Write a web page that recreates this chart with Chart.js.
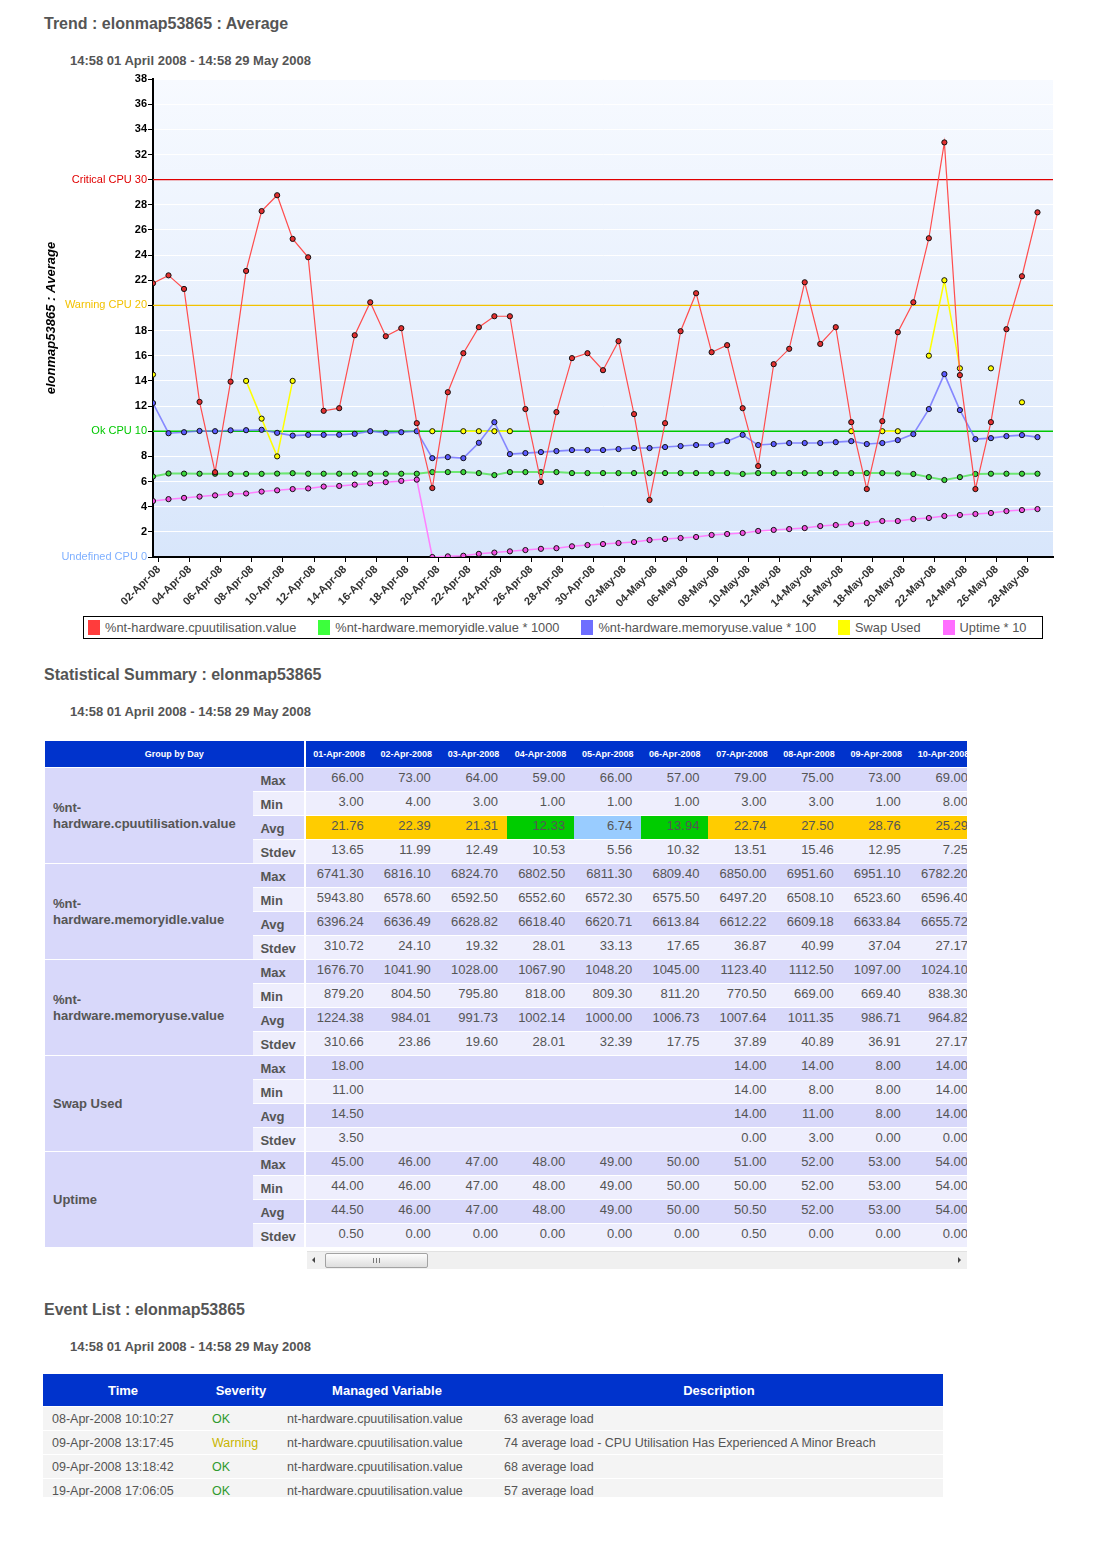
<!DOCTYPE html>
<html>
<head>
<meta charset="utf-8">
<title>Trend : elonmap53865 : Average</title>
<script src="https://cdn.jsdelivr.net/npm/chart.js@4.4.1/dist/chart.umd.min.js"></script>
<style>
    html, body { margin: 0; padding: 0; background: #fff; }
    body {
        width: 1100px; height: 1542px; position: relative; overflow: hidden;
        font-family: "Liberation Sans", Arial, sans-serif; color: #555;
    }
    .page { position: absolute; left: 0; top: 0; width: 1100px; height: 1497px; overflow: hidden; }
    h2 { position: absolute; margin: 0; font-size: 16px; line-height: 18px; font-weight: bold; color: #555; }
    .range { position: absolute; margin: 0; font-size: 13px; line-height: 16px; font-weight: bold; color: #555; }

    #trend-wrap { position: absolute; left: 0; top: 70px; width: 1100px; height: 540px; }
    #legend {
        position: absolute; left: 83px; top: 616px; width: 958px; height: 21px;
        border: 1px solid #000; display: flex; align-items: center;
        font-size: 12.8px; color: #555; white-space: nowrap;
    }
    #legend .item { display: flex; align-items: center; margin-right: 18px; }
    #legend .swatch { width: 12px; height: 15px; margin-left: 4px; margin-right: 5px; }

    #summary-wrap { position: absolute; left: 45px; top: 741px; width: 922px; height: 508px; overflow: hidden; }
    #summary { border-collapse: separate; border-spacing: 0; table-layout: fixed; width: 932px; font-size: 13px; }
    #summary th { background: #0033cc; color: #fff; font-size: 9px; font-weight: bold; height: 26px; padding: 0; border-bottom: 1px solid #fff; text-align: center; }
    #summary th.group-head { border-right: 2px solid #fff; }
    #summary td { height: 23px; padding: 0; border-bottom: 1px solid #fff; color: #555; }
    #summary td.group { background: #d8d8fa; font-weight: bold; padding-left: 8px; line-height: 16px; vertical-align: middle; }
    #summary td.stat { font-weight: bold; padding-left: 7px; border-right: 2px solid #fff; padding-top: 2px; height: 21px; }
    #summary td.val { text-align: right; padding-right: 9px; vertical-align: top; padding-top: 2px; height: 21px; }
    #summary tr.dark td.stat, #summary tr.dark td.val { background: #d8d8fa; }
    #summary tr.light td.stat, #summary tr.light td.val { background: #eeeefd; }

    #hscroll { position: absolute; left: 307px; top: 1251px; width: 660px; height: 17px; background: #f0f0f0; border-top: 1px solid #e2e2e2; }
    #hscroll .arrow-left { position: absolute; left: 5px; top: 5px; width: 0; height: 0; border-top: 3px solid transparent; border-bottom: 3px solid transparent; border-right: 3px solid #444; }
    #hscroll .arrow-right { position: absolute; right: 6px; top: 5px; width: 0; height: 0; border-top: 3px solid transparent; border-bottom: 3px solid transparent; border-left: 3px solid #444; }
    #hscroll .thumb { position: absolute; left: 18px; top: 1px; width: 101px; height: 13px; border: 1px solid #a3a3a3; border-radius: 2px; background: linear-gradient(#fdfdfd, #dedede); }
    #hscroll .grip { position: absolute; left: 47px; top: 4px; width: 7px; height: 5px;
        background: repeating-linear-gradient(90deg, #777 0, #777 1px, transparent 1px, transparent 3px); }

    #events-wrap { position: absolute; left: 43px; top: 1374px; width: 900px; height: 123px; overflow: hidden; }
    #events { border-collapse: separate; border-spacing: 0; table-layout: fixed; width: 900px; font-size: 12.5px; }
    #events th { background: #0033cc; color: #fff; font-size: 13px; font-weight: bold; height: 32px; padding: 0; border-bottom: 1px solid #fff; text-align: center; }
    #events td { background: #f4f4f4; height: 23px; padding: 0 0 0 9px; border-bottom: 1px solid #fff; color: #555; white-space: nowrap; }
    #events td.sev { padding-left: 9px; }
    #events td.var { padding-left: 8px; }
</style>
</head>
<body>
<div class="page">
    <h2 style="left:44px; top:15px;">Trend : elonmap53865 : Average</h2>
    <div class="range" style="left:70px; top:53px;">14:58 01 April 2008 - 14:58 29 May 2008</div>
    <div id="trend-wrap"><canvas id="trend-chart" width="1100" height="540"></canvas></div>
    <div id="legend"></div>

    <h2 style="left:44px; top:666px;">Statistical Summary : elonmap53865</h2>
    <div class="range" style="left:70px; top:704px;">14:58 01 April 2008 - 14:58 29 May 2008</div>
    <div id="summary-wrap"><table id="summary"></table></div>
    <div id="hscroll"><span class="arrow-left"></span><div class="thumb"><span class="grip"></span></div><span class="arrow-right"></span></div>

    <h2 style="left:44px; top:1301px;">Event List : elonmap53865</h2>
    <div class="range" style="left:70px; top:1339px;">14:58 01 April 2008 - 14:58 29 May 2008</div>
    <div id="events-wrap"><table id="events"></table></div>
</div>

<script>
// Daily averages, one value per day from 01-Apr-08 to 28-May-08
const cpuTrend = [
    21.76, 22.39, 21.31, 12.33, 6.74, 13.94, 22.74, 27.50, 28.76, 25.29,
    23.83, 11.62, 11.83, 17.63, 20.25, 17.55, 18.19, 10.64, 5.48, 13.10,
    16.20, 18.27, 19.14, 19.14, 11.76, 5.96, 11.52, 15.81, 16.20, 14.85,
    17.16, 11.36, 4.53, 10.64, 17.95, 20.97, 16.28, 16.84, 11.83, 7.23,
    15.33, 16.55, 21.84, 16.94, 18.27, 10.72, 5.40, 10.80, 17.87, 20.25,
    25.34, 32.96, 14.46, 5.40, 10.72, 18.11, 22.32, 27.40
];
const idleTrend = [
    6.40, 6.64, 6.63, 6.62, 6.62, 6.61, 6.61, 6.61, 6.63, 6.66,
    6.62, 6.62, 6.62, 6.62, 6.62, 6.62, 6.62, 6.62, 6.75, 6.75,
    6.75, 6.67, 6.51, 6.75, 6.75, 6.75, 6.75, 6.67, 6.67, 6.67,
    6.67, 6.67, 6.67, 6.67, 6.67, 6.67, 6.67, 6.67, 6.60, 6.67,
    6.67, 6.67, 6.67, 6.67, 6.67, 6.67, 6.67, 6.67, 6.64, 6.60,
    6.35, 6.12, 6.35, 6.60, 6.62, 6.62, 6.62, 6.62
];
const useTrend = [
    12.24, 9.84, 9.92, 10.02, 10.00, 10.07, 10.08, 10.11, 9.87, 9.65,
    9.71, 9.71, 9.72, 9.79, 10.00, 9.87, 9.92, 10.00, 7.86, 7.94,
    7.86, 9.08, 10.72, 8.18, 8.26, 8.34, 8.42, 8.50, 8.50, 8.50,
    8.58, 8.66, 8.66, 8.74, 8.82, 8.90, 8.90, 9.21, 9.71, 8.90,
    8.98, 9.06, 9.06, 9.06, 9.13, 9.21, 8.98, 9.06, 9.29, 9.77,
    11.76, 14.54, 11.68, 9.37, 9.45, 9.61, 9.69, 9.53
];
const swapTrend = [
    14.5, null, null, null, null, null, 14, 11, 8, 14,
    null, null, null, null, null, null, null, null, 10, null,
    10, 10, 10, 10, null, null, null, null, null, null,
    null, null, null, null, null, null, null, null, null, null,
    null, null, null, null, null, 10, null, 10, 10, null,
    16, 22, 15, null, 15, null, 12.3, null
];
const uptimeTrend = [
    4.45, 4.60, 4.70, 4.80, 4.90, 5.00, 5.05, 5.20, 5.30, 5.40,
    5.45, 5.60, 5.65, 5.75, 5.85, 5.95, 6.05, 6.15, 0.00, 0.05,
    0.10, 0.25, 0.35, 0.45, 0.55, 0.65, 0.70, 0.85, 0.95, 1.03,
    1.11, 1.19, 1.35, 1.43, 1.51, 1.59, 1.75, 1.83, 1.91, 2.07,
    2.15, 2.22, 2.30, 2.46, 2.54, 2.62, 2.70, 2.86, 2.86, 3.02,
    3.10, 3.26, 3.34, 3.42, 3.50, 3.65, 3.73, 3.81
];

const seriesNames = [
    '%nt-hardware.cpuutilisation.value',
    '%nt-hardware.memoryidle.value * 1000',
    '%nt-hardware.memoryuse.value * 100',
    'Swap Used',
    'Uptime * 10',
];

// x tick labels, every 2nd midnight
const tickLabels = [
    '02-Apr-08', '04-Apr-08', '06-Apr-08', '08-Apr-08', '10-Apr-08', '12-Apr-08', '14-Apr-08', '16-Apr-08',
    '18-Apr-08', '20-Apr-08', '22-Apr-08', '24-Apr-08', '26-Apr-08', '28-Apr-08', '30-Apr-08',
    '02-May-08', '04-May-08', '06-May-08', '08-May-08', '10-May-08', '12-May-08', '14-May-08',
    '16-May-08', '18-May-08', '20-May-08', '22-May-08', '24-May-08', '26-May-08', '28-May-08'
];
const startHour = 14;
const startMinute = 58;

const thresholdValues = [0, 10, 20, 30];
const thresholdNames = ['Undefined CPU', 'Ok CPU', 'Warning CPU', 'Critical CPU'];

// Statistical summary
const summaryDays = ['01-Apr-2008', '02-Apr-2008', '03-Apr-2008', '04-Apr-2008', '05-Apr-2008',
    '06-Apr-2008', '07-Apr-2008', '08-Apr-2008', '09-Apr-2008', '10-Apr-2008'];
const cpuMax = [66, 73, 64, 59, 66, 57, 79, 75, 73, 69];
const cpuMin = [3, 4, 3, 1, 1, 1, 3, 3, 1, 8];
const cpuAvg = [21.76, 22.39, 21.31, 12.33, 6.74, 13.94, 22.74, 27.50, 28.76, 25.29];
const cpuStdev = [13.65, 11.99, 12.49, 10.53, 5.56, 10.32, 13.51, 15.46, 12.95, 7.25];
const idleMax = [6741.30, 6816.10, 6824.70, 6802.50, 6811.30, 6809.40, 6850.00, 6951.60, 6951.10, 6782.20];
const idleMin = [5943.80, 6578.60, 6592.50, 6552.60, 6572.30, 6575.50, 6497.20, 6508.10, 6523.60, 6596.40];
const idleAvg = [6396.24, 6636.49, 6628.82, 6618.40, 6620.71, 6613.84, 6612.22, 6609.18, 6633.84, 6655.72];
const idleStdev = [310.72, 24.10, 19.32, 28.01, 33.13, 17.65, 36.87, 40.99, 37.04, 27.17];
const useMax = [1676.70, 1041.90, 1028.00, 1067.90, 1048.20, 1045.00, 1123.40, 1112.50, 1097.00, 1024.10];
const useMin = [879.20, 804.50, 795.80, 818.00, 809.30, 811.20, 770.50, 669.00, 669.40, 838.30];
const useAvg = [1224.38, 984.01, 991.73, 1002.14, 1000.00, 1006.73, 1007.64, 1011.35, 986.71, 964.82];
const useStdev = [310.66, 23.86, 19.60, 28.01, 32.39, 17.75, 37.89, 40.89, 36.91, 27.17];
const swapMax = [18, null, null, null, null, null, 14, 14, 8, 14];
const swapMin = [11, null, null, null, null, null, 14, 8, 8, 14];
const swapAvg = [14.5, null, null, null, null, null, 14, 11, 8, 14];
const swapStdev = [3.5, null, null, null, null, null, 0, 3, 0, 0];
const uptimeMax = [45, 46, 47, 48, 49, 50, 51, 52, 53, 54];
const uptimeMin = [44, 46, 47, 48, 49, 50, 50, 52, 53, 54];
const uptimeAvg = [44.5, 46, 47, 48, 49, 50, 50.5, 52, 53, 54];
const uptimeStdev = [0.5, 0, 0, 0, 0, 0, 0.5, 0, 0, 0];

// Event list
const eventTimes = ['08-Apr-2008 10:10:27', '09-Apr-2008 13:17:45', '09-Apr-2008 13:18:42', '19-Apr-2008 17:06:05'];
const eventSeverities = ['OK', 'Warning', 'OK', 'OK'];
const eventVariables = ['nt-hardware.cpuutilisation.value', 'nt-hardware.cpuutilisation.value',
    'nt-hardware.cpuutilisation.value', 'nt-hardware.cpuutilisation.value'];
const eventDescriptions = ['63 average load', '74 average load - CPU Utilisation Has Experienced A Minor Breach',
    '68 average load', '57 average load'];

const SERIES_STYLE = [
    { line: '#ff4d4d', point: '#e23030', legend: '#ff3c3c', width: 1.2 },
    { line: 'rgba(80,230,80,0.8)', point: '#3cd83c', legend: '#3cff3c', width: 2 },
    { line: 'rgba(110,110,255,0.8)', point: '#5c5cff', legend: '#6e6eff', width: 1.6 },
    { line: '#ffff00', point: '#ffff00', legend: '#ffff00', width: 1.5 },
    { line: '#ff80ff', point: '#f050e0', legend: '#ff6eff', width: 1.5 },
];
const THRESHOLD_COLORS = ['#7fb0ff', '#00c800', '#f2c200', '#e00000'];

document.addEventListener('DOMContentLoaded', () => {
    Chart.defaults.font.family = '"Liberation Sans", Arial, sans-serif';

    const series = [cpuTrend, idleTrend, useTrend, swapTrend, uptimeTrend];
    const dayCount = cpuTrend.length;
    const tickOffset = 1 - (startHour * 60 + startMinute) / 1440;

    const datasets = series.map((values, i) => ({
        label: seriesNames[i],
        data: values.map((v, d) => ({ x: d, y: v })),
        borderColor: SERIES_STYLE[i].line,
        borderWidth: SERIES_STYLE[i].width,
        backgroundColor: SERIES_STYLE[i].point,
        pointBackgroundColor: SERIES_STYLE[i].point,
        pointBorderColor: '#111',
        pointBorderWidth: 1,
        pointRadius: 2.6,
        tension: 0,
        spanGaps: false,
        order: i,
    }));

    // threshold lines (0 is the axis itself)
    thresholdValues.forEach((t, i) => {
        if (t === 0) return;
        datasets.push({
            label: thresholdNames[i],
            data: [{ x: 0, y: t }, { x: dayCount, y: t }],
            borderColor: THRESHOLD_COLORS[i],
            borderWidth: i === 1 ? 1.5 : 1.2,
            pointRadius: 0,
            order: 10,
        });
    });

    const plotBackground = {
        id: 'plotBackground',
        beforeDraw(chart) {
            const { ctx, chartArea: a } = chart;
            const g = ctx.createLinearGradient(0, a.top, 0, a.bottom);
            g.addColorStop(0, '#f7faff');
            g.addColorStop(1, '#d8e6fb');
            ctx.save();
            ctx.fillStyle = g;
            ctx.fillRect(a.left, a.top, a.right - a.left, a.bottom - a.top);
            ctx.restore();
        },
    };

    const tickValue = c => (c && c.tick) ? c.tick.value : null;
    const thresholdIndex = c => thresholdValues.indexOf(tickValue(c));

    new Chart(document.getElementById('trend-chart').getContext('2d'), {
        type: 'line',
        data: { datasets },
        options: {
            responsive: false,
            animation: false,
            layout: { padding: { left: 40, right: 47, top: 9, bottom: 0 } },
            plugins: {
                legend: { display: false },
                tooltip: { enabled: false },
            },
            scales: {
                x: {
                    type: 'linear',
                    min: 0,
                    max: dayCount,
                    afterFit(s) { s.height = 53; },
                    afterBuildTicks(s) {
                        s.ticks = tickLabels.map((_, i) => ({ value: tickOffset + 2 * i }));
                    },
                    ticks: {
                        autoSkip: false,
                        minRotation: 45,
                        maxRotation: 45,
                        padding: 1,
                        color: '#333',
                        font: { size: 11, weight: 'bold' },
                        callback: (v, i) => tickLabels[i],
                    },
                    grid: { drawOnChartArea: false, drawTicks: true, tickLength: 5, tickColor: '#000' },
                    border: { display: true, color: '#000', width: 2 },
                },
                y: {
                    min: 0,
                    max: 38,
                    afterFit(s) { s.width = 113; },
                    ticks: {
                        stepSize: 2,
                        padding: 1,
                        color: c => {
                            const i = thresholdIndex(c);
                            return i >= 0 ? THRESHOLD_COLORS[i] : '#000';
                        },
                        font: c => thresholdIndex(c) >= 0 ? { size: 11, weight: 'normal' } : { size: 11, weight: 'bold' },
                        callback: v => {
                            const i = thresholdValues.indexOf(v);
                            return i >= 0 ? thresholdNames[i] + ' ' + v : v;
                        },
                    },
                    grid: { color: '#ffffff', lineWidth: 1, tickLength: 5, tickColor: '#000' },
                    border: { display: true, color: '#000', width: 2 },
                    title: {
                        display: true,
                        text: 'elonmap53865 : Average',
                        color: '#000',
                        font: { size: 13, weight: 'bold', style: 'italic' },
                    },
                },
            },
        },
        plugins: [plotBackground],
    });

    // Legend
    const legendEl = document.getElementById('legend');
    seriesNames.forEach((name, i) => {
        const item = document.createElement('div');
        item.className = 'item';
        const sw = document.createElement('span');
        sw.className = 'swatch';
        sw.style.background = SERIES_STYLE[i].legend;
        const label = document.createElement('span');
        label.textContent = name;
        item.appendChild(sw);
        item.appendChild(label);
        legendEl.appendChild(item);
    });

    // Statistical summary table
    const groups = [
        { name: '%nt-hardware.cpuutilisation.value', rows: [cpuMax, cpuMin, cpuAvg, cpuStdev], flagAvg: true },
        { name: '%nt-hardware.memoryidle.value', rows: [idleMax, idleMin, idleAvg, idleStdev] },
        { name: '%nt-hardware.memoryuse.value', rows: [useMax, useMin, useAvg, useStdev] },
        { name: 'Swap Used', rows: [swapMax, swapMin, swapAvg, swapStdev] },
        { name: 'Uptime', rows: [uptimeMax, uptimeMin, uptimeAvg, uptimeStdev] },
    ];
    const statNames = ['Max', 'Min', 'Avg', 'Stdev'];

    function avgColor(v) {
        if (v >= thresholdValues[2]) return '#ffcc00';
        if (v >= thresholdValues[1]) return '#00cc00';
        return '#99ccff';
    }

    // the narrow group column wraps long variable names after the "%nt-" prefix
    const groupLabel = name => name.startsWith('%nt-') ? '%nt-<br>' + name.slice(4) : name;

    let html = '<colgroup><col style="width:208px"><col style="width:52px">';
    summaryDays.forEach(() => { html += '<col style="width:67px">'; });
    html += '</colgroup><tr><th class="group-head" colspan="2">Group by Day</th>';
    summaryDays.forEach(d => { html += `<th>${d}</th>`; });
    html += '</tr>';
    groups.forEach(g => {
        g.rows.forEach((vals, r) => {
            html += `<tr class="${r % 2 === 0 ? 'dark' : 'light'}">`;
            if (r === 0) html += `<td class="group" rowspan="4">${groupLabel(g.name)}</td>`;
            html += `<td class="stat">${statNames[r]}</td>`;
            vals.forEach(v => {
                const style = (g.flagAvg && r === 2) ? ` style="background:${avgColor(v)}"` : '';
                html += `<td class="val"${style}>${v === null ? '' : v.toFixed(2)}</td>`;
            });
            html += '</tr>';
        });
    });
    document.getElementById('summary').innerHTML = html;

    // Event list table
    const sevColor = { 'OK': '#2f9a2f', 'Warning': '#c8b400' };
    let ev = '<colgroup><col style="width:160px"><col style="width:76px"><col style="width:216px"><col style="width:448px"></colgroup>';
    ev += '<tr><th>Time</th><th>Severity</th><th>Managed Variable</th><th>Description</th></tr>';
    eventTimes.forEach((t, i) => {
        ev += `<tr><td>${t}</td><td class="sev" style="color:${sevColor[eventSeverities[i]]}">${eventSeverities[i]}</td>`;
        ev += `<td class="var">${eventVariables[i]}</td><td>${eventDescriptions[i]}</td></tr>`;
    });
    document.getElementById('events').innerHTML = ev;
});
</script>
</body>
</html>
